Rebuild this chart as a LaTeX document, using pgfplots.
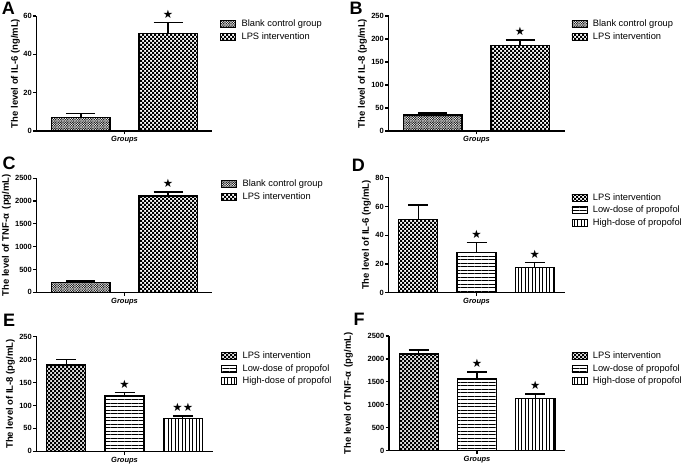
\documentclass[border=0pt]{standalone}
\usepackage{fontspec}
\setmainfont{Liberation Sans}
\newfontfamily\starfont{DejaVu Sans}
\usepackage{pgfplots}
\pgfplotsset{compat=1.18}
\usetikzlibrary{patterns,patterns.meta}

\pgfdeclarepatternformonly{finecheck}{\pgfqpoint{-0.5pt}{-0.5pt}}{\pgfqpoint{3pt}{3pt}}{\pgfqpoint{2.4pt}{2.4pt}}{%
 \pgfpathrectangle{\pgfpointorigin}{\pgfqpoint{1.25pt}{1.25pt}}%
 \pgfpathrectangle{\pgfqpoint{1.2pt}{1.2pt}}{\pgfqpoint{1.25pt}{1.25pt}}%
 \pgfusepath{fill}}
\pgfdeclarepatternformonly{medcheck}{\pgfqpoint{-0.5pt}{-0.5pt}}{\pgfqpoint{4.5pt}{4.5pt}}{\pgfqpoint{4pt}{4pt}}{%
 \pgfpathrectangle{\pgfpointorigin}{\pgfqpoint{2.05pt}{2.05pt}}%
 \pgfpathrectangle{\pgfqpoint{2pt}{2pt}}{\pgfqpoint{2.05pt}{2.05pt}}%
 \pgfusepath{fill}}

\tikzset{
 blank/.style={pattern=finecheck, pattern color=black!85},
 lps/.style={pattern=medcheck},
 low/.style={pattern={Lines[angle=0,distance=3.5pt,line width=0.7pt]}},
 high/.style={pattern={Lines[angle=90,distance=3.5pt,line width=0.7pt]}},
}

\pgfplotsset{
 panel/.style={
  scale only axis, width=176pt,
  axis x line*=bottom, axis y line*=left,
  axis line style={-, line width=1.4pt, black},
  tick align=outside, major tick length=3.5pt,
  every tick/.style={black, line width=1.2pt},
  ymin=0, clip=false,
  xticklabels={},
  /pgf/number format/assume math mode=true,
  /pgf/number format/1000 sep={},
  scaled y ticks=false,
  yticklabel style={font=\bfseries\fontsize{7.5}{9}\selectfont, inner sep=1pt},
  ylabel style={font=\bfseries\fontsize{9.5}{11}\selectfont, anchor=center},
  xlabel={Groups},
  xlabel style={font=\bfseries\itshape\fontsize{7.5}{9}\selectfont, at={(axis description cs:0.5,0)}, anchor=center, yshift=-9pt},
  legend style={draw=none, fill=none, inner sep=0pt, font=\fontsize{9.3}{11}\selectfont,
    at={(axis description cs:1,1)}, anchor=north west, column sep=3.5pt,
    nodes={inner sep=2pt, text height=7pt, text depth=2pt}},
  legend cell align=left,
 },
 three/.style={legend style={nodes={inner sep=2pt, text height=7pt, text depth=1.5pt}}},
 mybar/.style={ybar, bar shift=0pt, bar width=0.67, draw=black, line width=1.4pt,
  legend image code/.code={\draw[##1, line width=0.9pt] (0pt,-3.5pt) rectangle (15pt,3.5pt);},
  error bars/y dir=plus, error bars/y explicit,
  error bars/error bar style={line width=1.4pt, black, solid},
  error bars/error mark options={rotate=90, mark size=#1, line width=1.4pt, black, solid}},
 starplot/.style={forget plot, draw=none, mark=none, point meta=explicit symbolic,
  nodes near coords={\starfont\pgfplotspointmeta},
  every node near coord/.append style={anchor=center, yshift=8.5pt, font=\fontsize{11.5}{12}\selectfont, inner sep=0pt, black}},
}

\begin{document}
\begin{tikzpicture}
\useasboundingbox (0,0) rectangle (685pt,466pt);

% Panel letters
\node[font=\bfseries\fontsize{18}{18}\selectfont, inner sep=0pt] at (8.3pt,457.7pt) {A};
\node[font=\bfseries\fontsize{18}{18}\selectfont, inner sep=0pt] at (356pt,457.2pt) {B};
\node[font=\bfseries\fontsize{18}{18}\selectfont, inner sep=0pt] at (9.2pt,302.3pt) {C};
\node[font=\bfseries\fontsize{18}{18}\selectfont, inner sep=0pt] at (358.3pt,300.5pt) {D};
\node[font=\bfseries\fontsize{18}{18}\selectfont, inner sep=0pt] at (9.2pt,146pt) {E};
\node[font=\bfseries\fontsize{18}{18}\selectfont, inner sep=0pt] at (359pt,146.3pt) {F};

% A
\begin{axis}[panel, at={(36.5pt,335pt)}, anchor=south west, height=115pt,
  xmin=-0.51, xmax=1.51, xtick={0.5}, ymax=60, ytick={0,20,40,60},
  ylabel={The level of IL-6 (ng/mL)}, ylabel style={at={(axis description cs:-0.119,0.5)}},
  legend style={xshift=7.5pt, yshift=-1.5pt}]
\addplot[mybar=14.5pt, blank] coordinates {(0,7) +- (0,2)};
\addlegendentry{Blank control group}
\addplot[mybar=14.5pt, lps] coordinates {(1,51) +- (0,5.5)};
\addlegendentry{LPS intervention}
\addplot[starplot] coordinates {(1,56.5) [★]};
\end{axis}

% B
\begin{axis}[panel, at={(388.5pt,335pt)}, anchor=south west, height=115pt,
  xmin=-0.51, xmax=1.51, xtick={0.5}, ymax=250, ytick={0,50,100,150,200,250},
  ylabel={The level of IL-8 (pg/mL)}, ylabel style={at={(axis description cs:-0.148,0.5)}},
  legend style={xshift=6.8pt, yshift=-1.5pt}]
\addplot[mybar=14.5pt, blank] coordinates {(0,35) +- (0,4)};
\addlegendentry{Blank control group}
\addplot[mybar=14.5pt, lps] coordinates {(1,186) +- (0,12)};
\addlegendentry{LPS intervention}
\addplot[starplot] coordinates {(1,198) [★]};
\end{axis}

% C
\begin{axis}[panel, at={(36.5pt,173.7pt)}, anchor=south west, height=114pt,
  xmin=-0.51, xmax=1.51, xtick={0.5}, ymax=2500, ytick={0,500,1000,1500,2000,2500},
  ylabel={The level of TNF-α\enspace(pg/mL)}, ylabel style={at={(axis description cs:-0.171,0.5)}},
  legend style={xshift=8.5pt, yshift=0.8pt}]
\addplot[mybar=14.5pt, blank] coordinates {(0,220) +- (0,25)};
\addlegendentry{Blank control group}
\addplot[mybar=14.5pt, lps] coordinates {(1,2115) +- (0,85)};
\addlegendentry{LPS intervention}
\addplot[starplot] coordinates {(1,2200) [★]};
\end{axis}

% D
\begin{axis}[panel, three, at={(388.5pt,173.3pt)}, anchor=south west, height=115pt,
  xmin=-0.51, xmax=2.51, xtick={1}, ymax=80, ytick={0,20,40,60,80},
  ylabel={The level of IL-6 (ng/mL)}, ylabel style={at={(axis description cs:-0.125,0.5)}},
  legend style={xshift=6.8pt, yshift=-13.5pt}]
\addplot[mybar=10pt, lps] coordinates {(0,51) +- (0,10)};
\addlegendentry{LPS intervention}
\addplot[mybar=10pt, low] coordinates {(1,28) +- (0,6.8)};
\addlegendentry{Low-dose of propofol}
\addplot[mybar=10pt, high] coordinates {(2,17.4) +- (0,3.5)};
\addlegendentry{High-dose of propofol}
\addplot[starplot] coordinates {(1,34.8) [★] (2,20.9) [★]};
\end{axis}

% E
\begin{axis}[panel, three, at={(36.5pt,14.7pt)}, anchor=south west, height=114.6pt,
  xmin=-0.51, xmax=2.51, xtick={1}, ymax=250, ytick={0,50,100,150,200,250},
  ylabel={The level of IL-8 (pg/mL)}, ylabel style={at={(axis description cs:-0.148,0.5)}},
  legend style={xshift=8.5pt, yshift=-13pt}]
\addplot[mybar=10pt, lps] coordinates {(0,188) +- (0,12.5)};
\addlegendentry{LPS intervention}
\addplot[mybar=10pt, low] coordinates {(1,121) +- (0,7.5)};
\addlegendentry{Low-dose of propofol}
\addplot[mybar=10pt, high] coordinates {(2,72) +- (0,5)};
\addlegendentry{High-dose of propofol}
\addplot[starplot] coordinates {(1,128.5) [★] (2,77) [★★]};
\end{axis}

% F
\begin{axis}[panel, three, at={(389pt,15.3pt)}, anchor=south west, height=114.7pt,
  xmin=-0.51, xmax=2.51, xtick={1}, ymax=2500, ytick={0,500,1000,1500,2000,2500},
  ylabel={The level of TNF-α\enspace(pg/mL)}, ylabel style={at={(axis description cs:-0.23,0.5)}},
  legend style={xshift=6.3pt, yshift=-13.75pt}]
\addplot[mybar=10pt, lps] coordinates {(0,2110) +- (0,85)};
\addlegendentry{LPS intervention}
\addplot[mybar=10pt, low] coordinates {(1,1565) +- (0,150)};
\addlegendentry{Low-dose of propofol}
\addplot[mybar=10pt, high] coordinates {(2,1135) +- (0,105)};
\addlegendentry{High-dose of propofol}
\addplot[starplot] coordinates {(1,1715) [★] (2,1240) [★]};
\end{axis}
\end{tikzpicture}
\end{document}
